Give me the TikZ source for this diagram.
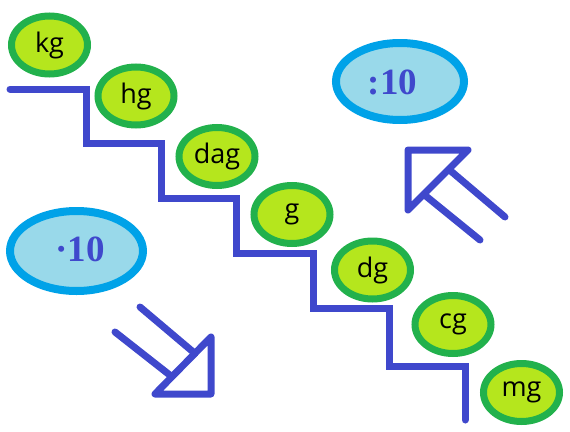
\documentclass[tikz,border=0pt]{standalone}
\usepackage{fontspec}
\setmainfont{Liberation Serif}
\newfontfamily\unitfont{Open Sans}
\usetikzlibrary{shapes.geometric}
\definecolor{stairblue}{HTML}{3F48CC}
\definecolor{unitborder}{HTML}{22B14C}
\definecolor{unitfill}{HTML}{B5E61D}
\definecolor{factorborder}{HTML}{00A2E8}
\definecolor{factorfill}{HTML}{99D9EA}
\tikzset{
  unitbox/.style={ellipse, draw=unitborder, fill=unitfill, line width=7pt,
    minimum width=76pt, minimum height=58pt, inner sep=0pt,
    font=\unitfont\fontsize{27}{27}\selectfont, text=black},
  factorbox/.style={ellipse, draw=factorborder, fill=factorfill, line width=8pt, inner sep=0pt},
  factortext/.style={font=\bfseries\fontsize{37}{37}\selectfont, text=stairblue, inner sep=0pt},
  stair/.style={draw=stairblue, line width=7pt, line cap=round, line join=miter},
  bigarrow/.style={draw=stairblue, line width=7pt, line cap=round, line join=round}
}
\begin{document}
\begin{tikzpicture}[x=1pt,y=-1pt]
\useasboundingbox (0,0) rectangle (570,431);
% staircase
\draw[stair] (10,89) -- (86,89) -- (86,143) -- (161,143) -- (161,198) -- (236,198)
  -- (236,253) -- (313,253) -- (313,308) -- (389,308) -- (389,366) -- (465,366) -- (465,420);
% unit ellipses
\node[unitbox] (kg)  at (49.5,45)    {kg};
\node[unitbox] (hg)  at (136,96)     {hg};
\node[unitbox] (dag) at (217,156.5)  {dag};
\node[unitbox] (g)   at (292,214.5)  {g};
\node[unitbox] (dg)  at (372.5,270)  {dg};
\node[unitbox] (cg)  at (453,324.5)  {cg};
\node[unitbox] (mg)  at (521.5,392.5) {mg};
% factor ellipses
\node[factorbox, minimum width=128pt, minimum height=77pt] (div) at (400,81.5) {};
\node[factortext] (divtext) at (392.5,82) {:10};
\node[factorbox, minimum width=133pt, minimum height=80pt] (mul) at (76.5,251) {};
\node[factortext] (multext) at (80,249) {·10};
% down-right arrow
\draw[bigarrow] (211,337) -- (211,394) -- (155,394) -- cycle;
\draw[bigarrow] (115,332) -- (171,376);
\draw[bigarrow] (140,307) -- (195,353.5);
% up-left arrow
\draw[bigarrow] (408,150) -- (468,150) -- (408,210) -- cycle;
\draw[bigarrow] (505,217) -- (449,169.5);
\draw[bigarrow] (480,240) -- (424,194.5);
\end{tikzpicture}
\end{document}
